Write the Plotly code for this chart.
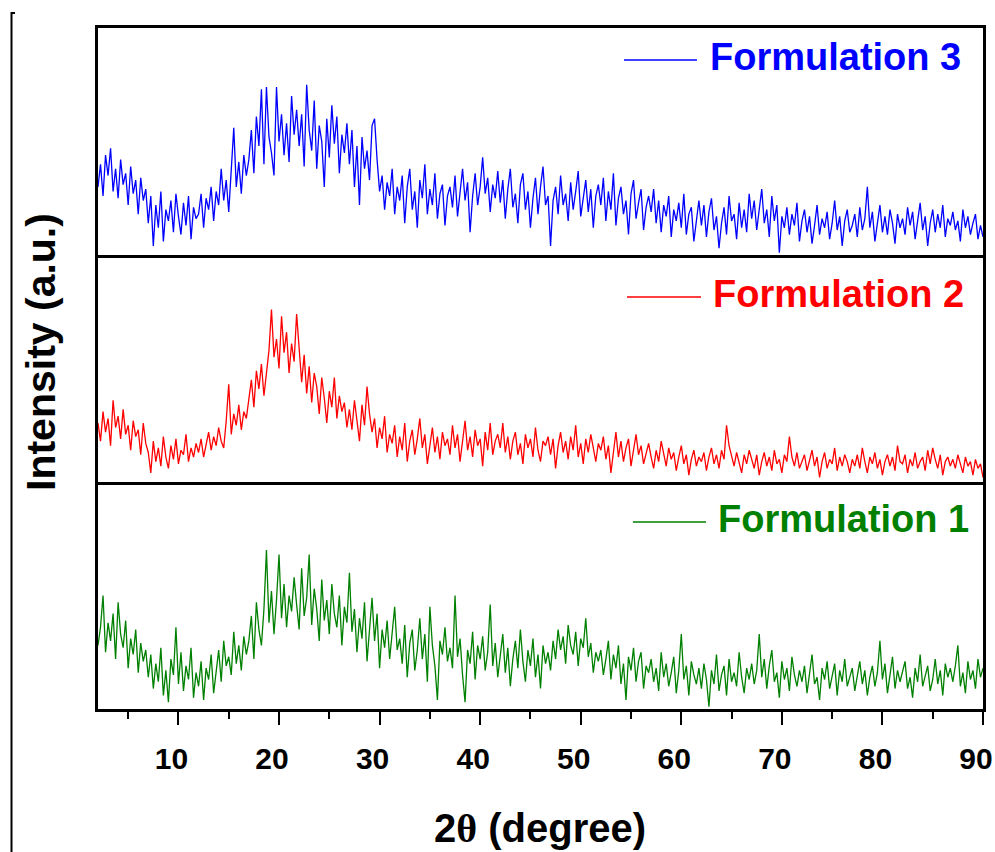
import plotly.graph_objects as go
from plotly.subplots import make_subplots

# 2theta scan grid (degrees)
theta_start = 2.0
theta_step = 0.25

# Intensity (a.u.), one row per 5 degrees
formulation_3 = [
    30, 40, 26, 44, 35, 47, 28, 38, 25, 42, 31, 36, 22, 39, 27, 33, 18, 34, 24, 29,
    14, 26, 4, 22, 12, 28, 6, 20, 15, 24, 10, 27, 17, 9, 23, 13, 26, 7, 21, 16,
    18, 27, 12, 25, 20, 30, 15, 28, 22, 38, 24, 33, 19, 36, 56, 30, 41, 27, 44, 35,
    42, 55, 36, 61, 48, 73, 40, 74, 52, 45, 35, 74, 50, 62, 44, 58, 41, 70, 53, 64,
    48, 62, 39, 75, 55, 46, 68, 38, 57, 50, 30, 60, 43, 66, 49, 61, 36, 53, 45, 58,
    40, 55, 30, 48, 22, 52, 38, 46, 33, 57, 60, 42, 28, 35, 20, 32, 26, 38, 18, 30,
    24, 35, 14, 30, 38, 20, 28, 12, 33, 25, 40, 18, 29, 22, 36, 16, 27, 31, 13, 26,
    30, 21, 35, 17, 28, 38, 24, 32, 10, 26, 36, 22, 30, 43, 27, 34, 19, 31, 25, 37,
    23, 33, 16, 29, 38, 21, 27, 14, 31, 36, 20, 28, 12, 25, 34, 18, 30, 39, 22, 26,
    4, 24, 30, 18, 35, 22, 27, 15, 32, 20, 28, 37, 17, 25, 33, 19, 29, 12, 26, 31,
    22, 34, 15, 28, 20, 36, 13, 25, 30, 18, 24, 9, 27, 33, 16, 23, 29, 11, 21, 26,
    19, 29, 14, 24, 10, 22, 17, 26, 8, 20, 15, 23, 12, 27, 9, 18, 21, 6, 16, 24,
    13, 22, 8, 19, 25, 11, 17, 3, 14, 21, 9, 26, 15, 18, 7, 23, 12, 20, 10, 27,
    16, 24, 11, 19, 29, 14, 20, 8, 26, 15, 22, 1, 17, 12, 21, 9, 18, 13, 23, 6,
    15, 20, 10, 17, 5, 13, 22, 9, 16, 12, 19, 7, 14, 24, 11, 17, 4, 15, 20, 10,
    13, 18, 8, 21, 11, 16, 30, 12, 19, 6, 15, 22, 10, 17, 9, 20, 14, 5, 18, 12,
    16, 9, 21, 13, 19, 7, 15, 23, 11, 17, 4, 14, 20, 10, 18, 12, 22, 8, 16, 13,
    19, 11, 15, 6, 20, 12, 17, 9, 14, 18, 7, 13, 8,
]

formulation_2 = [
    26, 18, 31, 22, 28, 16, 36, 24, 29, 19, 32, 21, 25, 14, 27, 20, 23, 12, 26, 17,
    13, 4, 18, 9, 15, 7, 20, 11, 6, 16, 10, 19, 8, 14, 12, 21, 9, 15, 11, 17,
    13, 19, 11, 17, 22, 14, 20, 16, 24, 18, 15, 27, 43, 21, 30, 25, 34, 23, 31, 28,
    36, 45, 33, 49, 41, 52, 38, 47, 58, 76, 55, 63, 50, 73, 57, 66, 48, 61, 53, 74,
    60, 44, 56, 39, 51, 35, 48, 42, 30, 46, 37, 26, 40, 33, 46, 28, 38, 31, 35, 24,
    32, 23, 36, 27, 18, 34, 25, 42, 30, 22, 28, 15, 24, 19, 29, 13, 21, 17, 25, 11,
    20, 14, 26, 9, 18, 23, 12, 19, 28, 15, 21, 8, 17, 24, 13, 20, 10, 22, 16, 19,
    12, 25, 15, 21, 9, 18, 27, 14, 20, 11, 23, 16, 19, 7, 22, 14, 26, 12, 18, 21,
    15, 26, 13, 20, 10, 18, 22, 12, 17, 8, 21, 15, 19, 11, 24, 14, 9, 18, 16, 20,
    12, 19, 6, 16, 22, 13, 18, 10, 20, 14, 25, 11, 17, 8, 19, 13, 21, 15, 9, 17,
    14, 20, 10, 16, 4, 13, 22, 11, 18, 9, 15, 19, 7, 14, 21, 12, 16, 8, 13, 17,
    11, 6, 14, 9, 18, 12, 7, 15, 10, 13, 5, 11, 16, 8, 12, 3, 10, 14, 7, 11,
    9, 13, 5, 11, 15, 8, 12, 6, 14, 10, 25, 16, 11, 7, 13, 9, 4, 12, 8, 14,
    10, 6, 12, 3, 9, 13, 7, 11, 5, 14, 8, 10, 4, 12, 9, 20, 11, 7, 13, 6,
    9, 12, 5, 10, 14, 7, 11, 2, 9, 13, 6, 10, 8, 15, 5, 11, 7, 12, 9, 4,
    10, 7, 12, 6, 15, 9, 4, 11, 8, 13, 6, 10, 3, 9, 12, 7, 11, 5, 16, 9,
    8, 12, 4, 10, 7, 13, 6, 9, 11, 5, 14, 8, 15, 10, 6, 12, 3, 9, 11, 7,
    10, 6, 12, 8, 4, 11, 7, 9, 3, 10, 6, 8, 2,
]

formulation_1 = [
    28, 36, 50, 25, 38, 30, 42, 22, 47, 33, 27, 39, 18, 31, 24, 35, 16, 29, 21, 26,
    14, 24, 9, 20, 12, 27, 6, 17, 3, 22, 15, 36, 11, 25, 8, 19, 13, 27, 5, 16,
    10, 21, 4, 18, 13, 24, 7, 16, 26, 12, 30, 19, 23, 15, 34, 20, 28, 17, 32, 24,
    30, 41, 22, 47, 35, 28, 44, 70, 38, 52, 33, 48, 68, 40, 55, 36, 50, 43, 58, 46,
    35, 62, 41, 49, 68, 37, 53, 44, 30, 57, 39, 48, 33, 55, 42, 36, 50, 28, 45, 38,
    60, 34, 44, 25, 40, 31, 47, 21, 36, 49, 30, 42, 18, 35, 27, 39, 22, 33, 45, 26,
    31, 20, 37, 14, 29, 35, 17, 26, 40, 22, 33, 12, 45, 28, 19, 4, 30, 24, 36, 21,
    27, 18, 50, 23, 31, 15, 3, 26, 20, 34, 13, 28, 22, 32, 17, 25, 46, 19, 29, 14,
    24, 33, 16, 27, 10, 22, 30, 18, 35, 21, 12, 26, 19, 31, 14, 24, 9, 28, 20, 25,
    17, 30, 22, 35, 26, 32, 20, 37, 28, 24, 34, 19, 31, 27, 40, 23, 29, 16, 25, 21,
    26, 15, 22, 30, 13, 24, 18, 28, 11, 20, 4, 23, 17, 27, 12, 21, 25, 9, 19, 16,
    22, 12, 18, 8, 25, 14, 20, 10, 16, 23, 7, 17, 33, 13, 19, 6, 21, 15, 11, 18,
    9, 20, 13, 1, 17, 11, 24, 8, 15, 19, 6, 22, 12, 16, 10, 25, 14, 7, 18, 13,
    20, 11, 17, 33, 14, 22, 9, 19, 26, 12, 16, 5, 21, 13, 18, 8, 23, 15, 10, 17,
    12, 19, 7, 16, 24, 11, 14, 4, 18, 13, 21, 9, 15, 20, 6, 17, 12, 22, 10, 14,
    18, 8, 15, 21, 11, 17, 6, 14, 19, 10, 16, 30, 13, 20, 7, 15, 23, 9, 17, 12,
    16, 21, 9, 14, 5, 18, 12, 24, 10, 15, 19, 8, 13, 22, 11, 17, 6, 20, 14, 18,
    12, 19, 28, 10, 16, 7, 21, 13, 17, 9, 22, 14, 18,
]

series_names = ["Formulation 3", "Formulation 2", "Formulation 1"]
series_colors = ["#0000FF", "#FF0000", "#008000"]
series_values = [formulation_3, formulation_2, formulation_1]

x_ticks = [10, 20, 30, 40, 50, 60, 70, 80, 90]
x_minor_ticks = [5, 15, 25, 35, 45, 55, 65, 75, 85]

# ---- layout geometry (pixels) ----
W, H = 995, 852
L, R, T, B = 98, 12, 28, 143
PW, PH = W - L - R, H - T - B


def px(xp):
    return (xp - L) / PW


def py(yp):
    return (H - B - yp) / PH


FONT = "Liberation Sans, Arial, sans-serif"

fig = make_subplots(rows=3, cols=1, shared_xaxes=True, vertical_spacing=0)

for i, (name, color, vals) in enumerate(zip(series_names, series_colors, series_values)):
    xs = [theta_start + theta_step * k for k in range(len(vals))]
    fig.add_trace(
        go.Scatter(x=xs, y=vals, mode="lines", name=name,
                   line=dict(color=color, width=1.3), showlegend=False),
        row=i + 1, col=1,
    )

for r in (1, 2, 3):
    fig.update_xaxes(range=[2, 90], showline=True, linewidth=3, linecolor="black",
                     mirror=(r == 1), showgrid=False, zeroline=False, automargin=False,
                     row=r, col=1)
    fig.update_yaxes(range=[0, 100], showline=True, linewidth=3, linecolor="black",
                     mirror=True, showgrid=False, zeroline=False, showticklabels=False,
                     ticks="", automargin=False, row=r, col=1)

fig.update_xaxes(showticklabels=False, ticks="", row=1, col=1)
fig.update_xaxes(showticklabels=False, ticks="", row=2, col=1)
fig.update_xaxes(
    tickmode="array", tickvals=x_ticks, ticktext=[str(v) for v in x_ticks],
    ticks="outside", ticklen=13, tickwidth=2, tickcolor="black",
    tickfont=dict(family=FONT, size=30, color="black", weight="bold"),
    ticklabelshift=-7, ticklabelstandoff=8,
    minor=dict(ticks="outside", ticklen=7, tickwidth=2, tickcolor="black",
               tickmode="array", tickvals=x_minor_ticks),
    row=3, col=1,
)

annotations = []
shapes = []

# legend-like labels
legend_spec = [
    (series_names[0], series_colors[0], 624, 697, 60, 708, 57),
    (series_names[1], series_colors[1], 627, 701, 297, 711, 294),
    (series_names[2], series_colors[2], 633, 706, 522, 716, 519),
]
for name, color, lx0, lx1, ly, tx, ty in legend_spec:
    shapes.append(dict(type="line", xref="paper", yref="paper",
                       x0=px(lx0), x1=px(lx1), y0=py(ly), y1=py(ly),
                       line=dict(color=color, width=1.5)))
    annotations.append(dict(text=name, xref="paper", yref="paper",
                            x=px(tx), y=py(ty), xanchor="left", yanchor="middle",
                            showarrow=False,
                            font=dict(family=FONT, size=38, color=color, weight="bold")))

# axis titles
annotations.append(dict(text="Intensity (a.u.)", xref="paper", yref="paper",
                        x=px(41), y=py(352), xanchor="center", yanchor="middle",
                        textangle=-90, showarrow=False,
                        font=dict(family=FONT, size=41, color="black", weight="bold")))
annotations.append(dict(text="2<span style='font-family:Liberation Serif'>θ</span> (degree)",
                        xref="paper", yref="paper",
                        x=px(540), y=py(828), xanchor="center", yanchor="middle",
                        showarrow=False,
                        font=dict(family=FONT, size=40, color="black", weight="bold")))

# thin bracket line at the far left
shapes.append(dict(type="path", xref="paper", yref="paper",
                   path=f"M {px(15)} {py(13)} L {px(11.5)} {py(13)} L {px(11.5)} {py(852)}",
                   line=dict(color="black", width=2)))

fig.update_layout(
    width=W, height=H,
    margin=dict(l=L, r=R, t=T, b=B, autoexpand=False),
    paper_bgcolor="white", plot_bgcolor="white",
    annotations=annotations, shapes=shapes,
    showlegend=False,
    font=dict(family=FONT, color="black"),
)

fig.write_html("out.html")
